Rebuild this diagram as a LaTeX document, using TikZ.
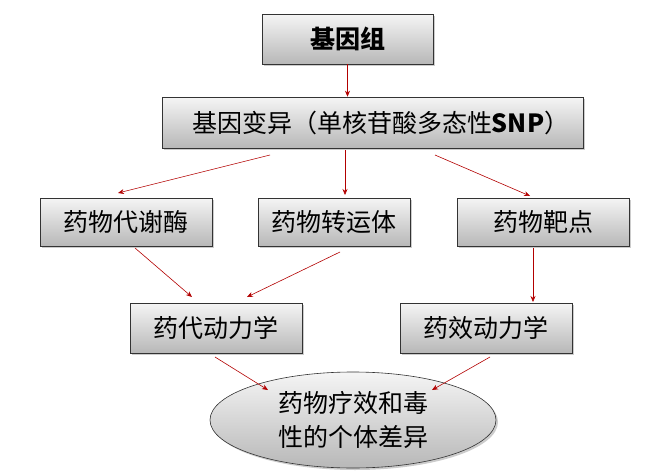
\documentclass[tikz,border=0pt]{standalone}
\usepackage{fontspec}
\newfontfamily\cjk{Noto Sans CJK SC}
\usetikzlibrary{shadows,shapes.geometric,arrows.meta}
\begin{document}
\begin{tikzpicture}[x=1pt,y=-1pt,
  gbox/.style={draw=black!80,line width=0.6pt,top color=white!96!black,bottom color=black!28,
    drop shadow={shadow xshift=2pt,shadow yshift=-2pt,fill=black!40},font=\cjk\fontsize{25}{30}\selectfont,inner sep=0pt},
  arr/.style={draw=red!70!black,line width=0.6pt,-{Stealth[length=6pt,width=5pt]}}]
\useasboundingbox (0,0) rectangle (670,471);
\node[gbox,minimum width=171pt,minimum height=50pt] (g) at (347.5,39) {\bfseries 基因组};
\node[gbox,minimum width=421pt,minimum height=51pt,text width=421pt] (snp) at (372.5,122.5) {\hspace*{30pt}基因变异（单核苷酸多态性\textbf{SNP}）};
\node[gbox,minimum width=172pt,minimum height=48pt] (m) at (126,222) {药物代谢酶};
\node[gbox,minimum width=152pt,minimum height=48pt] (t) at (334,222) {药物转运体};
\node[gbox,minimum width=172pt,minimum height=48pt] (b) at (543,222) {药物靶点};
\node[gbox,minimum width=172pt,minimum height=50pt] (pk) at (216,328) {药代动力学};
\node[gbox,minimum width=172pt,minimum height=50pt] (pd) at (486,328) {药效动力学};
\node[gbox,ellipse,minimum width=286pt,minimum height=96pt,align=center,font=\cjk\fontsize{25}{34}\selectfont] (e) at (353,420) {药物疗效和毒\\性的个体差异};
\coordinate (a1) at (270,155); \coordinate (a2) at (118,193);
\coordinate (b1) at (345,150); \coordinate (b2) at (345,195);
\coordinate (c1) at (435,155); \coordinate (c2) at (530,196);
\coordinate (d1) at (135,248); \coordinate (d2) at (192,297);
\coordinate (e1) at (340,252); \coordinate (e2) at (247,297);
\coordinate (f1) at (533,248); \coordinate (f2) at (533,302);
\coordinate (h1) at (215,357); \coordinate (h2) at (268,390);
\coordinate (i1) at (490,357); \coordinate (i2) at (432,390);
\draw[arr] (g.south) -- (snp.north -| g.south);
\draw[arr] (a1) -- (a2);
\draw[arr] (b1) -- (b2);
\draw[arr] (c1) -- (c2);
\draw[arr] (d1) -- (d2);
\draw[arr] (e1) -- (e2);
\draw[arr] (f1) -- (f2);
\draw[arr] (h1) -- (h2);
\draw[arr] (i1) -- (i2);
\end{tikzpicture}
\end{document}
